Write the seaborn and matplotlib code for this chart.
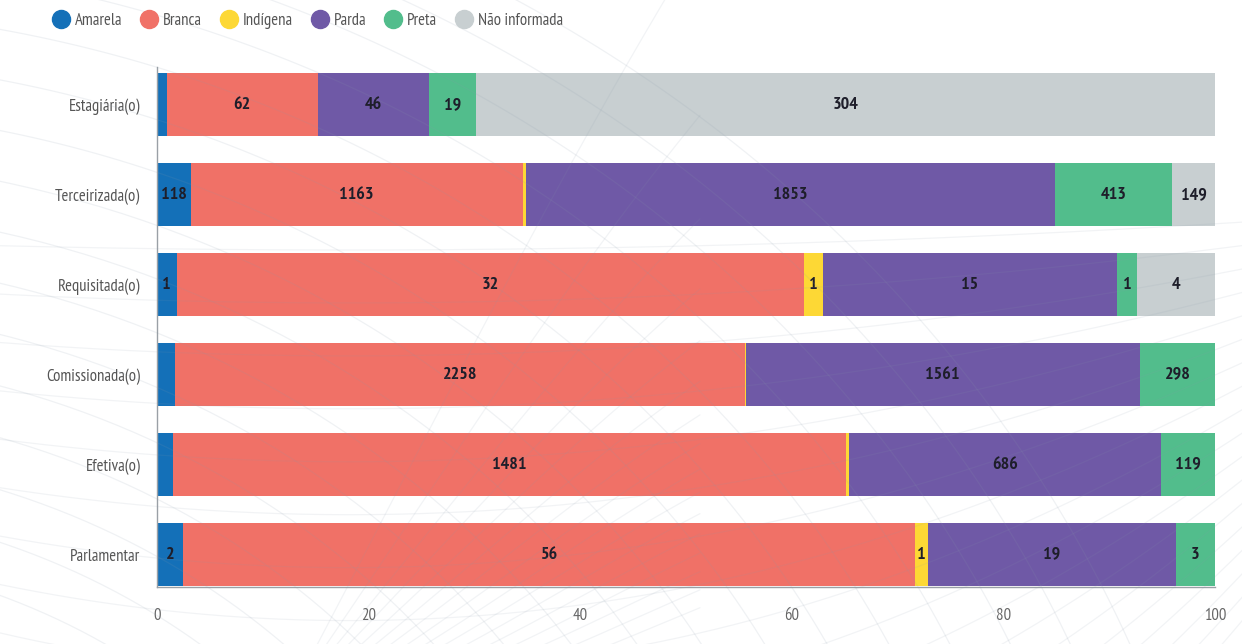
import numpy as np
import pandas as pd
import matplotlib
matplotlib.use("Agg")
import matplotlib.pyplot as plt
from matplotlib import font_manager
from matplotlib.lines import Line2D
import seaborn as sns

# ---- data -------------------------------------------------------------
vinculos = ["Estagiária(o)", "Terceirizada(o)", "Requisitada(o)",
            "Comissionada(o)", "Efetiva(o)", "Parlamentar"]
racas = ["Amarela", "Branca", "Indígena", "Parda", "Preta", "Não informada"]

amarela = [4, 118, 1, 70, 36, 2]
branca = [62, 1163, 32, 2258, 1481, 56]
indigena = [0, 12, 1, 3, 7, 1]
parda = [46, 1853, 15, 1561, 686, 19]
preta = [19, 413, 1, 298, 119, 3]
nao_informada = [304, 149, 4, 0, 0, 0]

cores = ["#1470b8", "#f07167", "#fdd835", "#6f59a6", "#52bd8c", "#c8cfd1"]
x_ticks = [0, 20, 40, 60, 80, 100]

# ---- fonts ------------------------------------------------------------
sns.set_theme(style="white")
available = {f.name for f in font_manager.fontManager.ttflist}
family = "DejaVu Sans"
stretch = "normal"
for cand in ["PT Sans Narrow", "Liberation Sans Narrow", "Roboto Condensed",
             "Open Sans Condensed", "Noto Sans Condensed"]:
    if cand in available:
        family = cand
        break
else:
    stretch = "condensed"
plt.rcParams["font.family"] = [family, "DejaVu Sans"]
plt.rcParams["font.stretch"] = stretch

# ---- table of shares ----------------------------------------------------
counts = pd.DataFrame(
    {"Amarela": amarela, "Branca": branca, "Indígena": indigena,
     "Parda": parda, "Preta": preta, "Não informada": nao_informada},
    index=vinculos)
pct = counts.div(counts.sum(axis=1), axis=0) * 100
cum = pct.cumsum(axis=1)

fig = plt.figure(figsize=(12.42, 6.44), dpi=100)
ax = fig.add_axes([157 / 1242, 1 - 587 / 644, (1215 - 157) / 1242, 520 / 644])
ax.patch.set_alpha(0)

# stacked bars: draw cumulative totals from the last group back to the first
for raca, cor in reversed(list(zip(racas, cores))):
    df = pd.DataFrame({"vinculo": vinculos, "valor": cum[raca].values})
    sns.barplot(data=df, y="vinculo", x="valor", color=cor, orient="h",
                width=0.7, saturation=1, ax=ax, order=vinculos,
                linewidth=0, zorder=2)

# value labels inside segments wide enough to hold them
px_per_pct = (1215 - 157) / 100
for i, v in enumerate(vinculos):
    for raca in racas:
        n = counts.loc[v, raca]
        if n == 0:
            continue
        w = pct.loc[v, raca]
        txt = str(n)
        if w * px_per_pct < len(txt) * 7.5 + 4:
            continue
        xc = cum.loc[v, raca] - w / 2
        ax.text(xc, i, txt, ha="center", va="center", fontsize=13,
                fontweight="bold", color="#1e1e2a", zorder=4)

ax.set_xlim(0, 100)
ax.set_ylim(5.36, -0.42)
ax.set_xticks(x_ticks)
ax.set_xticklabels([str(t) for t in x_ticks])
ax.set_xlabel("")
ax.set_ylabel("")
for s in ["top", "right"]:
    ax.spines[s].set_visible(False)
for s in ["left", "bottom"]:
    ax.spines[s].set_color("#9aa0a6")
    ax.spines[s].set_linewidth(1)
ax.tick_params(axis="x", length=9, width=1, color="#9aa0a6",
               labelsize=12, labelcolor="#666666", pad=6, direction="out")
ax.tick_params(axis="y", length=0, labelsize=12, labelcolor="#555555", pad=12)
ax.grid(False)

# ---- decorative mesh of faint arcs ------------------------------------
bg = fig.add_axes([0, 0, 1, 1], zorder=5)
bg.set_xlim(0, 1242)
bg.set_ylim(644, 0)
bg.axis("off")
bg.patch.set_alpha(0)
t = np.linspace(0, 2 * np.pi, 600)
for r in np.arange(500, 1500, 55):
    bg.plot(-250 + r * np.cos(t), 1150 + r * 0.9 * np.sin(t),
            color="#8a9aab", alpha=0.13, lw=0.9)
for k in np.linspace(-0.9, 0.9, 18):
    xs = np.linspace(-100, 1300, 300)
    ys = 700 + k * 500 - 0.00035 * (xs - 350) ** 2 * (1 + k)
    bg.plot(xs, ys, color="#8a9aab", alpha=0.11, lw=0.9)
for a in np.linspace(0.15, 1.35, 16):
    xs = np.linspace(0, 700, 200)
    bg.plot(xs, 644 - (xs - 300) * np.tan(a) * 0.35 + 80 * np.sin(xs / 220 + a),
            color="#8a9aab", alpha=0.11, lw=0.9)

# ---- legend -------------------------------------------------------------
handles = [Line2D([0], [0], marker="o", linestyle="", markersize=13,
                  markerfacecolor=c, markeredgecolor=c) for c in cores]
fig.legend(handles, racas, loc="center left", bbox_to_anchor=(0.030, 0.968),
           ncol=6, frameon=False, fontsize=12, handletextpad=0.35,
           columnspacing=1.1, labelcolor="#555555", handlelength=1.0)

fig.savefig("out.png", dpi=100)
